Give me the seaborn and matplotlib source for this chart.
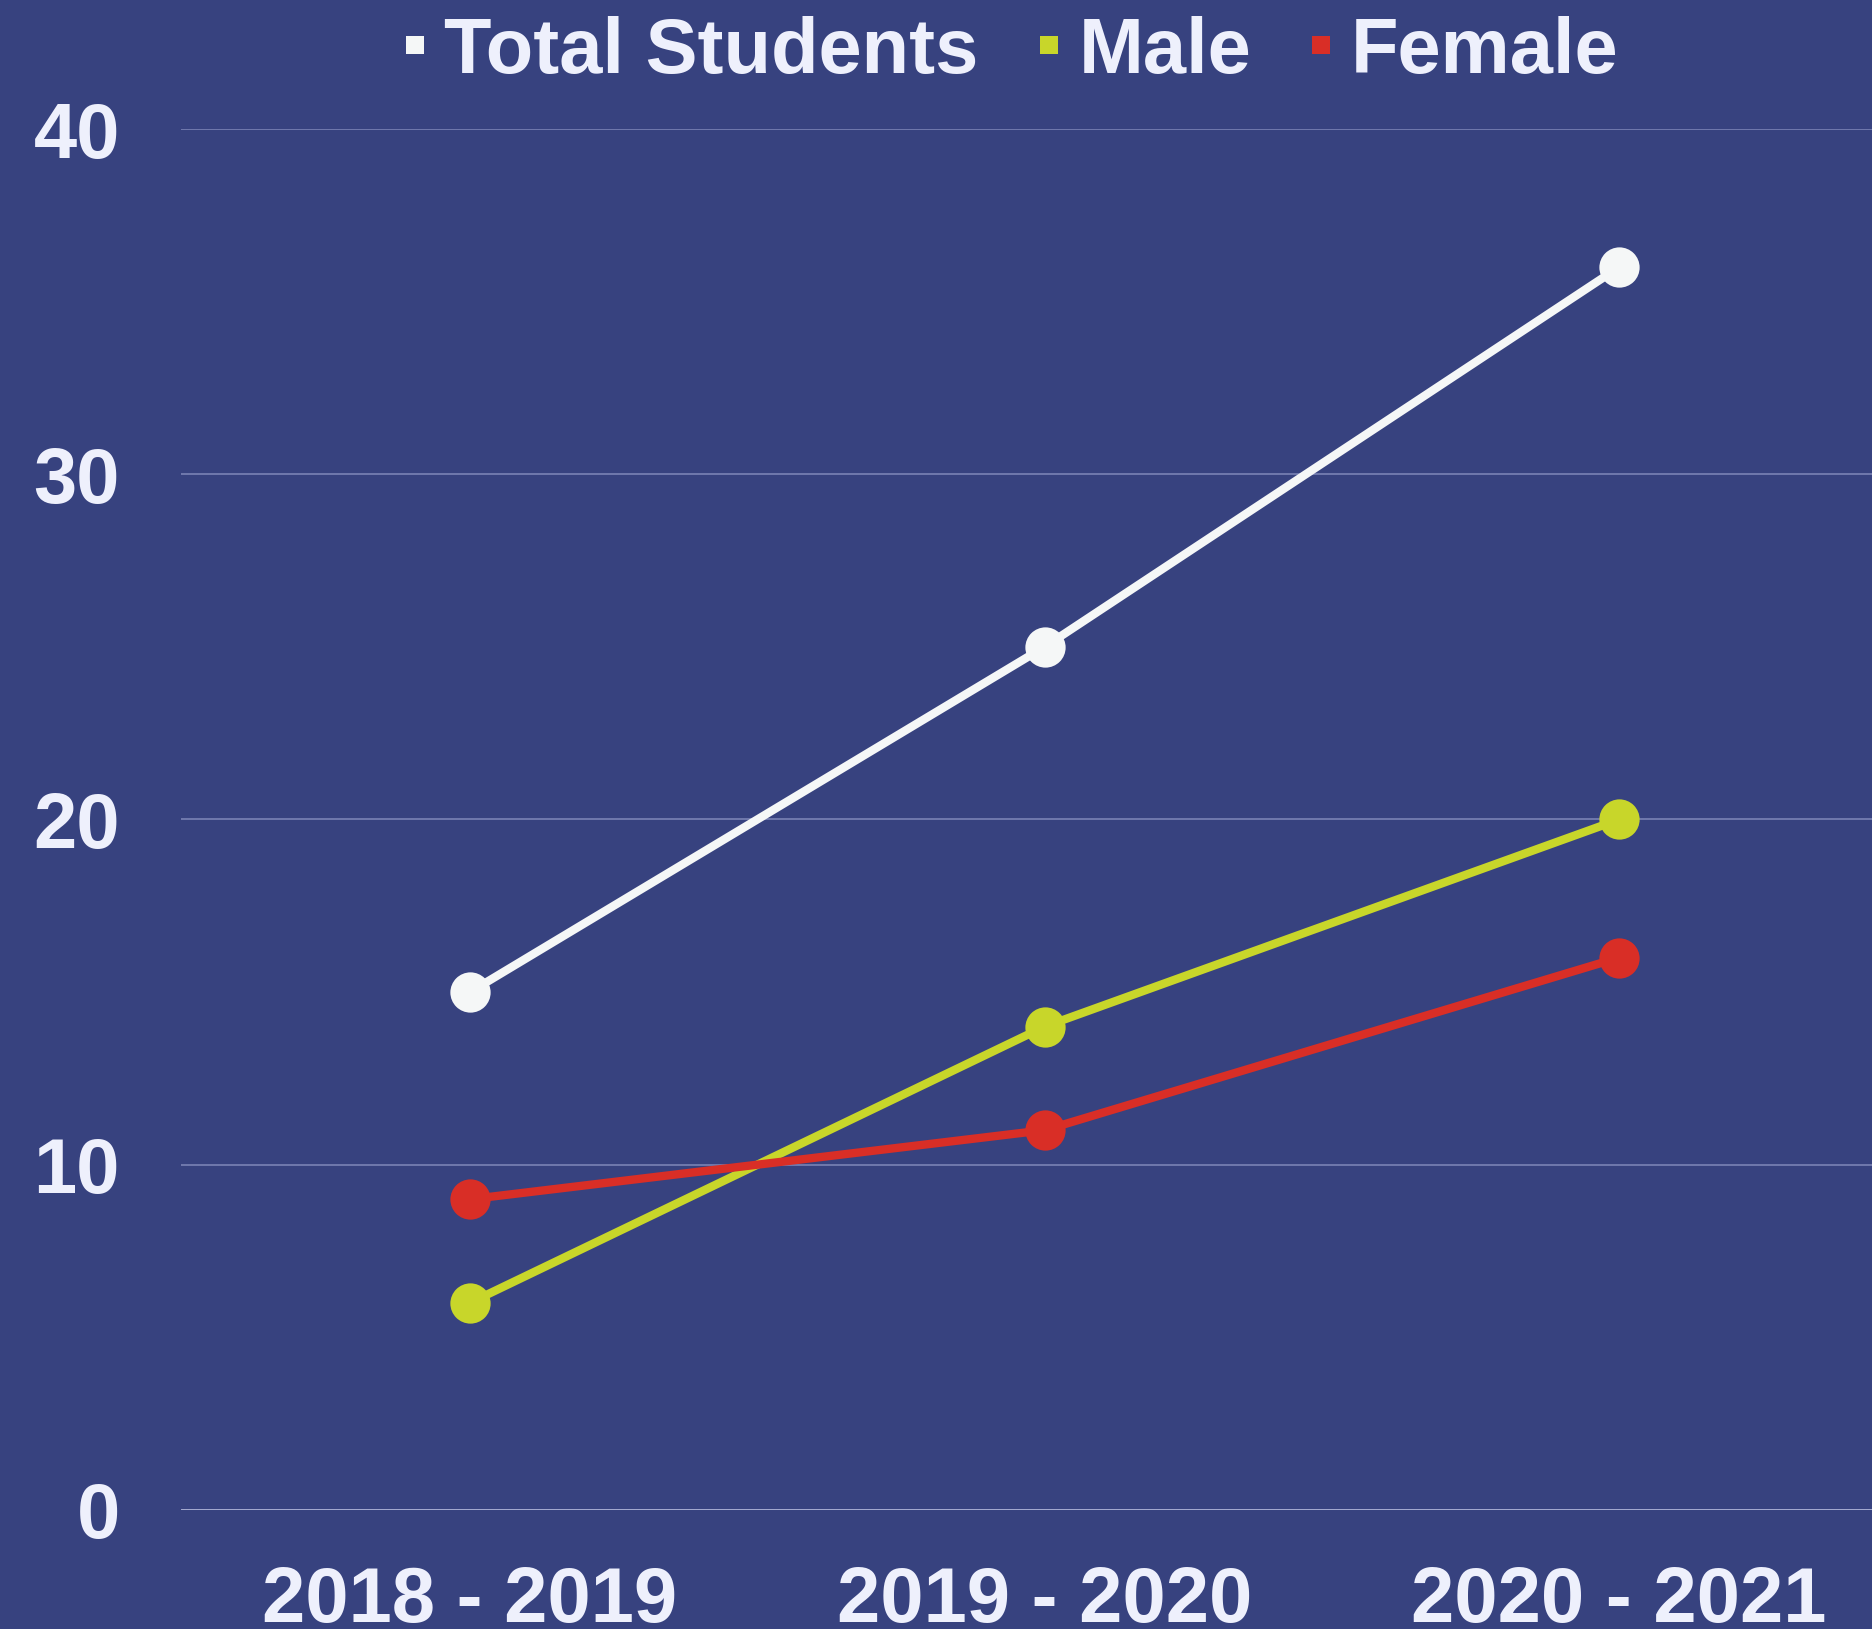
import matplotlib
matplotlib.use("Agg")
import matplotlib.pyplot as plt
import seaborn as sns
import pandas as pd
from matplotlib.lines import Line2D

# --- Data ---
years = ["2018 - 2019", "2019 - 2020", "2020 - 2021"]
total_students = [15, 25, 36]
male = [6, 14, 20]
female = [9, 11, 16]

series_names = ["Total Students", "Male", "Female"]
colors = ["#F5F7F7", "#C8D62A", "#D92E26"]
BG = "#37427F"
TXT = "#EEF0FC"

df = pd.DataFrame({
    "Year": years * 3,
    "Count": total_students + male + female,
    "Series": [s for s in series_names for _ in years],
})

sns.set_style("white")
plt.rcParams["font.family"] = ["Liberation Sans", "DejaVu Sans"]

fig = plt.figure(figsize=(18.72, 16.29), dpi=100, facecolor=BG)
ax = fig.add_axes([0.0967, 0.0731, 0.9033, 0.8477])
ax.set_facecolor(BG)

sns.lineplot(
    data=df, x="Year", y="Count", hue="Series", hue_order=series_names,
    palette=colors, marker="o", markersize=29, markeredgewidth=0,
    linewidth=6, sort=False, legend=False, ax=ax, zorder=3,
)

ax.set_ylim(0, 40)
ax.set_xlim(-0.503, 2.44)
ax.set_yticks([0, 10, 20, 30, 40])
ax.grid(axis="y", color="#7A82B4", linewidth=1.2)
ax.set_axisbelow(True)
for s in ax.spines.values():
    s.set_visible(False)
ax.axhline(0, color="#A9AED3", linewidth=2, zorder=1)

ax.tick_params(axis="both", length=0, labelsize=56, labelcolor=TXT)
ax.tick_params(axis="y", pad=44)
ax.tick_params(axis="x", pad=40)
for lab in ax.get_xticklabels() + ax.get_yticklabels():
    lab.set_fontweight("bold")
ax.set_xlabel("")
ax.set_ylabel("")

handles = [Line2D([], [], linestyle="none", marker="s", markersize=13,
                  markerfacecolor=c, markeredgewidth=0) for c in colors]
leg = fig.legend(handles, series_names, loc="center", bbox_to_anchor=(0.541, 0.968),
                 ncol=3, frameon=False, handlelength=0.2, handletextpad=0.28,
                 columnspacing=0.8, prop={"size": 56, "weight": "bold"})
for t in leg.get_texts():
    t.set_color(TXT)

fig.savefig("out.png", dpi=100, facecolor=BG)
